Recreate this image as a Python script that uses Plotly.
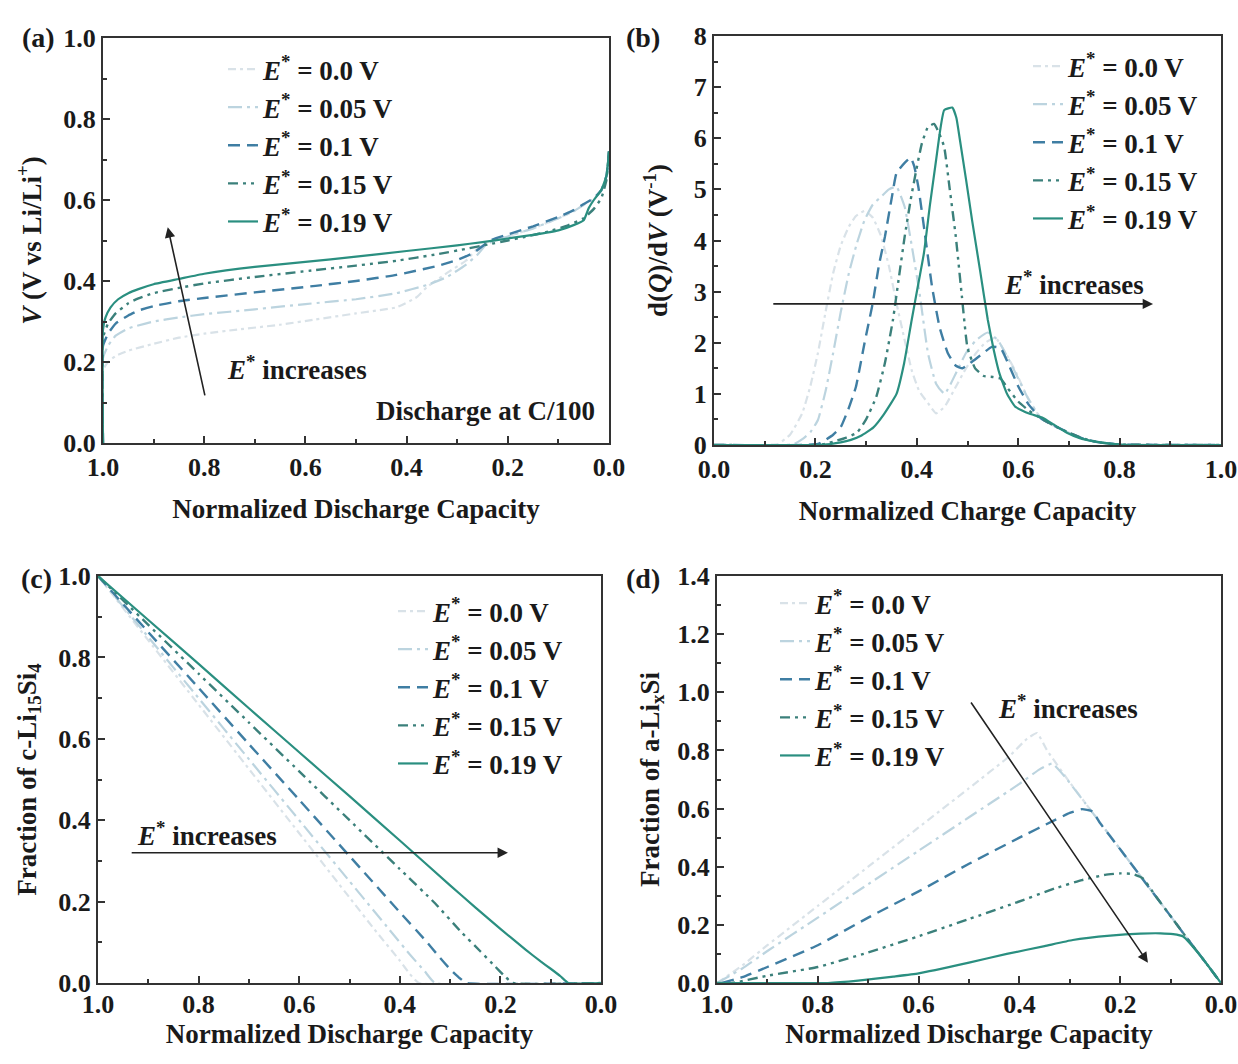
import plotly.graph_objects as go

W, H = 1238, 1064
FONT = "Liberation Serif"

series_names = ["<i>E</i><sup>*</sup> = 0.0 V", "<i>E</i><sup>*</sup> = 0.05 V",
                "<i>E</i><sup>*</sup> = 0.1 V", "<i>E</i><sup>*</sup> = 0.15 V",
                "<i>E</i><sup>*</sup> = 0.19 V"]
colors = ["#d9e2e8", "#bcd4df", "#3f7ea3", "#3b807b", "#2a8f80"]
dashes = ["8px,4px,3px,4px", "14px,5px,3px,5px", "12px,7px",
          "10px,5px,3px,5px,3px,5px", "solid"]
widths = [2.2, 2.2, 2.4, 2.4, 2.2]

# ---------------- (a) voltage vs normalized discharge capacity ----------------
a_q0 = [1.0, 1.0, 0.99, 0.975, 0.95, 0.9, 0.85, 0.8, 0.735, 0.65, 0.58, 0.5, 0.42, 0.38, 0.36,
        0.32, 0.283, 0.251, 0.2, 0.15, 0.1, 0.07, 0.05, 0.03, 0.015, 0.005, 0.0]
a_v0 = [0.0, 0.18, 0.2, 0.215, 0.228, 0.245, 0.26, 0.27, 0.28, 0.292, 0.305, 0.32, 0.335, 0.36, 0.385,
        0.42, 0.45, 0.49, 0.51, 0.53, 0.555, 0.572, 0.588, 0.603, 0.623, 0.66, 0.72]
a_q1 = [1.0, 1.0, 0.99, 0.975, 0.95, 0.9, 0.85, 0.8, 0.7, 0.6, 0.5, 0.42, 0.36, 0.32, 0.283,
        0.26, 0.243, 0.2, 0.15, 0.1, 0.07, 0.05, 0.03, 0.015, 0.005, 0.0]
a_v1 = [0.0, 0.21, 0.24, 0.265, 0.283, 0.3, 0.31, 0.318, 0.33, 0.343, 0.355, 0.37, 0.39, 0.41, 0.44,
        0.465, 0.49, 0.51, 0.53, 0.555, 0.572, 0.588, 0.603, 0.623, 0.66, 0.72]
a_q2 = [1.0, 1.0, 0.99, 0.975, 0.95, 0.93, 0.9, 0.85, 0.8, 0.7, 0.58, 0.5, 0.42, 0.34, 0.3,
        0.267, 0.235, 0.2, 0.15, 0.1, 0.07, 0.05, 0.03, 0.015, 0.005, 0.0]
a_v2 = [0.0, 0.24, 0.27, 0.295, 0.315, 0.327, 0.338, 0.35, 0.358, 0.372, 0.388, 0.4, 0.415, 0.437, 0.452,
        0.47, 0.5, 0.515, 0.535, 0.558, 0.575, 0.59, 0.605, 0.625, 0.66, 0.72]
a_q3 = [1.0, 1.0, 0.99, 0.975, 0.95, 0.93, 0.9, 0.85, 0.8, 0.7, 0.58, 0.5, 0.42, 0.34, 0.28,
        0.24, 0.2, 0.17, 0.12, 0.08, 0.05, 0.03, 0.015, 0.005, 0.0]
a_v3 = [0.0, 0.26, 0.295, 0.32, 0.345, 0.357, 0.37, 0.383, 0.394, 0.41, 0.427, 0.438, 0.45, 0.466, 0.48,
        0.49, 0.5, 0.508, 0.522, 0.538, 0.555, 0.578, 0.605, 0.65, 0.72]
a_q4 = [1.0, 1.0, 0.995, 0.985, 0.97, 0.95, 0.93, 0.9, 0.85, 0.8, 0.7, 0.6, 0.5, 0.4, 0.3,
        0.25, 0.2, 0.15, 0.1, 0.07, 0.05, 0.04, 0.03, 0.015, 0.005, 0.0]
a_v4 = [0.0, 0.28, 0.31, 0.335, 0.355, 0.37, 0.38, 0.392, 0.405, 0.418, 0.435, 0.447, 0.46, 0.474, 0.488,
        0.496, 0.505, 0.514, 0.525, 0.538, 0.55, 0.58, 0.6, 0.625, 0.66, 0.72]

# ---------------- (b) dQ/dV vs normalized charge capacity ----------------
b_q0 = [0, 0.1, 0.126, 0.15, 0.174, 0.19, 0.205, 0.22, 0.235, 0.25, 0.266, 0.28, 0.297, 0.313, 0.329,
        0.345, 0.36, 0.375, 0.39, 0.405, 0.422, 0.438, 0.455, 0.477, 0.497, 0.517, 0.535, 0.555, 0.575,
        0.594, 0.615, 0.645, 0.67, 0.7, 0.73, 0.76, 0.8, 1.0]
b_d0 = [0, 0, 0.02, 0.2, 0.62, 1.15, 1.8, 2.6, 3.36, 3.9, 4.27, 4.48, 4.58, 4.45, 4.1,
        3.5, 2.77, 2.1, 1.46, 1.05, 0.82, 0.62, 0.75, 1.14, 1.5, 1.8, 2.0, 2.1, 1.8,
        1.46, 1.0, 0.52, 0.38, 0.24, 0.12, 0.05, 0.01, 0]
b_q1 = [0, 0.14, 0.158, 0.175, 0.19, 0.205, 0.22, 0.235, 0.25, 0.266, 0.282, 0.297, 0.313, 0.329, 0.345,
        0.36, 0.376, 0.39, 0.405, 0.422, 0.438, 0.455, 0.477, 0.497, 0.517, 0.54, 0.56, 0.58, 0.6,
        0.62, 0.645, 0.67, 0.7, 0.73, 0.76, 0.8, 1.0]
b_d1 = [0, 0, 0.02, 0.12, 0.25, 0.49, 1.05, 1.8, 2.6, 3.36, 3.95, 4.4, 4.7, 4.85, 5.0,
        5.05, 4.66, 3.9, 3.0, 1.8, 1.2, 1.0, 1.4, 1.8, 2.05, 2.2, 2.05, 1.7, 1.3,
        0.9, 0.52, 0.38, 0.24, 0.12, 0.05, 0.01, 0]
b_q2 = [0, 0.18, 0.205, 0.22, 0.235, 0.25, 0.265, 0.28, 0.297, 0.313, 0.325, 0.337, 0.35, 0.36, 0.376,
        0.388, 0.395, 0.403, 0.415, 0.43, 0.445, 0.461, 0.477, 0.49, 0.505, 0.525, 0.548, 0.565, 0.58,
        0.6, 0.62, 0.645, 0.67, 0.7, 0.73, 0.76, 0.8, 1.0]
b_d2 = [0, 0, 0.02, 0.1, 0.2, 0.35, 0.7, 1.14, 2.0, 2.77, 3.5, 4.07, 4.8, 5.32, 5.52,
        5.62, 5.45, 5.05, 4.2, 3.1, 2.3, 1.8, 1.55, 1.5, 1.6, 1.75, 1.92, 1.9, 1.6,
        1.15, 0.8, 0.52, 0.38, 0.24, 0.12, 0.05, 0.01, 0]
b_q3 = [0, 0.2, 0.219, 0.24, 0.26, 0.282, 0.3, 0.32, 0.337, 0.353, 0.365, 0.376, 0.388, 0.399, 0.41,
        0.422, 0.434, 0.444, 0.454, 0.465, 0.477, 0.489, 0.5, 0.515, 0.532, 0.55, 0.565, 0.58, 0.6,
        0.62, 0.645, 0.67, 0.7, 0.73, 0.76, 0.8, 1.0]
b_d3 = [0, 0, 0.02, 0.08, 0.14, 0.24, 0.5, 0.94, 1.6, 2.45, 3.3, 4.07, 4.8, 5.38, 5.9,
        6.22, 6.28, 6.1, 5.83, 5.0, 4.07, 2.9, 1.9, 1.5, 1.35, 1.33, 1.3, 1.1, 0.85,
        0.68, 0.52, 0.38, 0.24, 0.12, 0.05, 0.01, 0]
b_q4 = [0, 0.2, 0.23, 0.25, 0.27, 0.29, 0.314, 0.335, 0.36, 0.375, 0.39, 0.402, 0.414, 0.426, 0.438,
        0.446, 0.454, 0.47, 0.478, 0.485, 0.497, 0.509, 0.525, 0.54, 0.552, 0.563, 0.578, 0.594, 0.62,
        0.649, 0.67, 0.696, 0.72, 0.75, 0.78, 0.82, 1.0]
b_d4 = [0, 0, 0.02, 0.05, 0.1, 0.18, 0.34, 0.6, 1.0, 1.6, 2.45, 3.1, 3.75, 4.7, 5.57,
        6.15, 6.55, 6.6, 6.4, 5.97, 5.2, 4.4, 3.4, 2.45, 1.85, 1.4, 1.0, 0.75, 0.62,
        0.53, 0.4, 0.24, 0.14, 0.07, 0.03, 0.0, 0]

# ---------------- (c) fraction of c-Li15Si4 ----------------
c_q0 = [1.0, 0.9, 0.8, 0.7, 0.6, 0.5, 0.45, 0.4, 0.38, 0.362, 0.0]
c_f0 = [1.0, 0.842, 0.684, 0.526, 0.368, 0.21, 0.131, 0.055, 0.022, 0.0, 0.0]
c_q1 = [1.0, 0.9, 0.8, 0.7, 0.6, 0.5, 0.42, 0.38, 0.35, 0.33, 0.0]
c_f1 = [1.0, 0.85, 0.7, 0.55, 0.4, 0.25, 0.13, 0.07, 0.028, 0.0, 0.0]
c_q2 = [1.0, 0.9, 0.8, 0.7, 0.6, 0.5, 0.4, 0.35, 0.32, 0.3, 0.28, 0.268, 0.0]
c_f2 = [1.0, 0.862, 0.725, 0.587, 0.45, 0.312, 0.174, 0.106, 0.062, 0.034, 0.011, 0.0, 0.0]
c_q3 = [1.0, 0.9, 0.8, 0.7, 0.6, 0.5, 0.4, 0.33, 0.28, 0.24, 0.21, 0.19, 0.175, 0.0]
c_f3 = [1.0, 0.88, 0.76, 0.64, 0.52, 0.4, 0.28, 0.196, 0.128, 0.078, 0.04, 0.015, 0.0, 0.0]
c_q4 = [1.0, 0.9, 0.8, 0.7, 0.6, 0.5, 0.4, 0.3, 0.25, 0.2, 0.15, 0.12, 0.1, 0.08, 0.065, 0.0]
c_f4 = [1.0, 0.892, 0.784, 0.675, 0.567, 0.459, 0.35, 0.24, 0.186, 0.133, 0.082, 0.053, 0.035, 0.016, 0.0, 0.0]

# ---------------- (d) fraction of a-LixSi ----------------
d_q0 = [1.0, 0.95, 0.9, 0.8, 0.7, 0.6, 0.5, 0.42, 0.385, 0.365, 0.345, 0.3, 0.25, 0.2, 0.15, 0.1, 0.07, 0.04, 0.0]
d_f0 = [0.0, 0.06, 0.13, 0.265, 0.4, 0.535, 0.67, 0.78, 0.84, 0.86, 0.8, 0.69, 0.575, 0.46, 0.345, 0.23, 0.16, 0.092, 0.0]
d_q1 = [1.0, 0.95, 0.9, 0.8, 0.7, 0.6, 0.5, 0.4, 0.36, 0.335, 0.31, 0.27, 0.25, 0.2, 0.15, 0.1, 0.07, 0.04, 0.0]
d_f1 = [0.0, 0.05, 0.11, 0.225, 0.34, 0.455, 0.57, 0.685, 0.735, 0.755, 0.71, 0.62, 0.575, 0.46, 0.345, 0.23, 0.16, 0.092, 0.0]
d_q2 = [0.99, 0.95, 0.9, 0.8, 0.7, 0.6, 0.5, 0.4, 0.33, 0.3, 0.276, 0.255, 0.24, 0.2, 0.15, 0.1, 0.07, 0.04, 0.0]
d_f2 = [0.0, 0.02, 0.055, 0.13, 0.225, 0.315, 0.41, 0.5, 0.56, 0.585, 0.598, 0.59, 0.55, 0.46, 0.345, 0.23, 0.16, 0.092, 0.0]
d_q3 = [1.0, 0.97, 0.9, 0.8, 0.7, 0.605, 0.5, 0.409, 0.33, 0.276, 0.23, 0.2, 0.175, 0.155, 0.13, 0.1, 0.07, 0.04, 0.0]
d_f3 = [0.0, 0.0, 0.025, 0.055, 0.105, 0.158, 0.22, 0.275, 0.325, 0.354, 0.372, 0.377, 0.375, 0.36, 0.3, 0.23, 0.16, 0.092, 0.0]
d_q4 = [1.0, 0.78, 0.72, 0.65, 0.6, 0.5, 0.425, 0.35, 0.294, 0.22, 0.16, 0.12, 0.095, 0.075, 0.04, 0.0]
d_f4 = [0.0, 0.0, 0.008, 0.022, 0.033, 0.07, 0.1, 0.127, 0.148, 0.163, 0.17, 0.171, 0.168, 0.16, 0.092, 0.0]

panels = [
    ("x", "y", "legend", [(a_q0, a_v0), (a_q1, a_v1), (a_q2, a_v2), (a_q3, a_v3), (a_q4, a_v4)]),
    ("x2", "y2", "legend2", [(b_q0, b_d0), (b_q1, b_d1), (b_q2, b_d2), (b_q3, b_d3), (b_q4, b_d4)]),
    ("x3", "y3", "legend3", [(c_q0, c_f0), (c_q1, c_f1), (c_q2, c_f2), (c_q3, c_f3), (c_q4, c_f4)]),
    ("x4", "y4", "legend4", [(d_q0, d_f0), (d_q1, d_f1), (d_q2, d_f2), (d_q3, d_f3), (d_q4, d_f4)]),
]

fig = go.Figure()
for xa, ya, lg, data in panels:
    for i, (xs, ys) in enumerate(data):
        fig.add_trace(go.Scatter(
            x=xs, y=ys, xaxis=xa, yaxis=ya, mode="lines", name=series_names[i],
            legend=lg, legendgroup="g%d" % i,
            line=dict(color=colors[i], width=widths[i], dash=dashes[i], shape="spline", smoothing=0.4),
        ))


def px_x(p):
    return p / W


def px_y(p):
    return 1 - p / H


tickfont = dict(family=FONT, size=26, color="#1a1a1a", weight="bold")
titlefont = dict(family=FONT, size=27, color="#1a1a1a", weight="bold")


def axis(domain, rng, dtick, minor, title, anchor, standoff, fmt=".1f"):
    return dict(domain=domain, range=rng, dtick=dtick, tick0=0, tickformat=fmt,
                showline=True, linecolor="#333", linewidth=2.2, mirror=True,
                ticks="inside", ticklen=7, tickwidth=2, tickcolor="#333",
                minor=dict(ticks="inside", ticklen=4, tickwidth=1.5, tickcolor="#333", dtick=minor),
                showgrid=False, zeroline=False, tickfont=tickfont, automargin=False,
                title=dict(text=title, font=titlefont, standoff=standoff),
                anchor=anchor, fixedrange=True)


xt = "Normalized Discharge Capacity"
fig.update_layout(
    template="none",
    xaxis=axis([px_x(103), px_x(609)], [1, 0], 0.2, 0.1, xt, "y", 18),
    yaxis=axis([px_y(443), px_y(38)], [0, 1], 0.2, 0.1,
               "<i>V</i> (V vs Li/Li<sup>+</sup>)", "x", 14),
    xaxis2=axis([px_x(714), px_x(1221)], [0, 1], 0.2, 0.1, "Normalized Charge Capacity", "y2", 18),
    yaxis2=axis([px_y(445), px_y(36)], [0, 8], 1, 0.5,
                "d(<i>Q</i>)/d<i>V</i> (V<sup>-1</sup>)", "x2", 18, fmt="d"),
    xaxis3=axis([px_x(98), px_x(601)], [1, 0], 0.2, 0.1, xt, "y3", 0),
    yaxis3=axis([px_y(983), px_y(576)], [0, 1], 0.2, 0.1,
                "Fraction of c-Li<sub>15</sub>Si<sub>4</sub>", "x3", 14),
    xaxis4=axis([px_x(717), px_x(1221)], [1, 0], 0.2, 0.1, xt, "y4", 0),
    yaxis4=axis([px_y(983), px_y(576)], [0, 1.4], 0.2, 0.1,
                "Fraction of a-Li<sub>x</sub>Si", "x4", 10),
)
for ax in ["xaxis3", "xaxis4"]:
    fig.layout[ax].ticklabelstandoff = -3

legfont = dict(family=FONT, size=27, color="#1a1a1a", weight="bold")


def legend(xp, yp):
    return dict(x=px_x(xp), y=px_y(yp), xanchor="left", yanchor="top", bgcolor="rgba(0,0,0,0)",
                font=legfont, tracegroupgap=0, itemclick=False, itemdoubleclick=False)


fig.update_layout(
    legend=legend(223, 45),
    legend2=legend(1028, 42),
    legend3=legend(393, 587),
    legend4=legend(775, 579),
)

annfont = dict(family=FONT, size=27, color="#1a1a1a", weight="bold")
inc = "<i>E</i><sup>*</sup> increases"
anns = []
# panel labels
for lbl, xp, yp in [("(a)", 38, 38), ("(b)", 643, 38), ("(c)", 36, 578), ("(d)", 643, 578)]:
    anns.append(dict(text=lbl, x=px_x(xp), y=px_y(yp), xref="paper", yref="paper",
                     xanchor="center", yanchor="middle", showarrow=False,
                     font=dict(family=FONT, size=28, color="#1a1a1a", weight="bold")))
# arrows
for xr, yr, hx, hy, tx, ty in [("x", "y", 0.872, 0.533, 0.798, 0.114),
                               ("x2", "y2", 0.866, 2.76, 0.114, 2.76),
                               ("x3", "y3", 0.185, 0.32, 0.936, 0.32),
                               ("x4", "y4", 0.145, 0.07, 0.498, 0.97)]:
    anns.append(dict(x=hx, y=hy, ax=tx, ay=ty, xref=xr, yref=yr, axref=xr, ayref=yr, text="",
                     showarrow=True, arrowhead=2, arrowsize=1.3, arrowwidth=1.6, arrowcolor="#222"))
# arrow labels
for xr, yr, xv, yv in [("x", "y", 0.617, 0.185), ("x2", "y2", 0.71, 3.17),
                       ("x3", "y3", 0.783, 0.365), ("x4", "y4", 0.304, 0.95)]:
    anns.append(dict(text=inc, x=xv, y=yv, xref=xr, yref=yr, showarrow=False, font=annfont))
anns.append(dict(text="Discharge at C/100", x=0.245, y=0.08, xref="x", yref="y",
                 showarrow=False, font=annfont))

fig.update_layout(
    annotations=anns,
    width=W, height=H, margin=dict(l=0, r=0, t=0, b=0, autoexpand=False),
    paper_bgcolor="white", plot_bgcolor="white",
    font=dict(family=FONT, color="#1a1a1a"),
)

fig.write_html("out.html", include_plotlyjs=True, full_html=True,
               config={"displayModeBar": False, "responsive": False})
